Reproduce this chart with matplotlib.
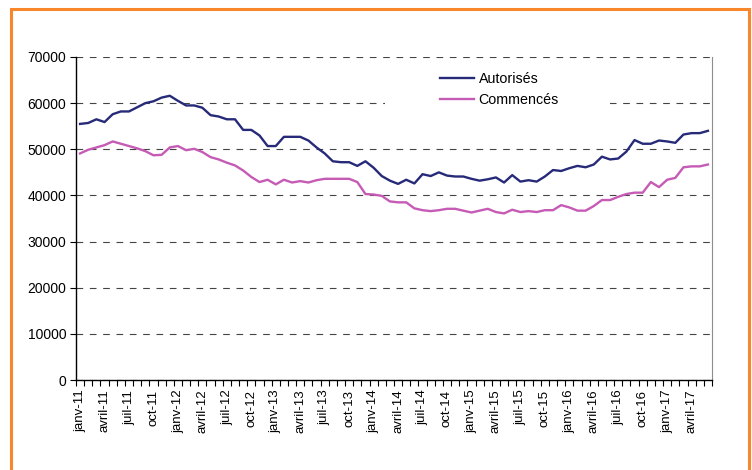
import matplotlib.pyplot as plt
from matplotlib.patches import Rectangle
from matplotlib.ticker import FixedLocator, NullFormatter

plt.rcParams["font.family"] = ["Liberation Sans", "DejaVu Sans"]

# monthly series, janv-11 .. juin-17
month_names = ["janv", "févr", "mars", "avril", "mai", "juin",
               "juil", "août", "sept", "oct", "nov", "déc"]
years = [11, 12, 13, 14, 15, 16, 17]
months = [f"{m}-{y}" for y in years for m in month_names][:78]

autorises = [
    55500, 55700, 56500, 55900, 57600, 58200, 58200, 59100, 60000, 60400,
    61200, 61600, 60500, 59500, 59500, 59000, 57400, 57100, 56500, 56500,
    54200, 54200, 53000, 50700, 50700, 52700, 52700, 52700, 51900, 50400,
    49100, 47400, 47200, 47200, 46400, 47400, 46000, 44200, 43200, 42500,
    43400, 42600, 44600, 44200, 45000, 44300, 44100, 44100, 43600, 43200,
    43500, 43900, 42800, 44400, 43000, 43300, 43000, 44100, 45500, 45300,
    45900, 46400, 46100, 46700, 48400, 47800, 48000, 49500, 52000, 51200,
    51200, 51900, 51700, 51400, 53200, 53500, 53500, 54000,
]
commences = [
    49100, 49900, 50400, 50900, 51700, 51200, 50700, 50200, 49600, 48700,
    48800, 50400, 50700, 49800, 50100, 49400, 48300, 47800, 47100, 46500,
    45400, 44000, 42900, 43400, 42400, 43400, 42800, 43100, 42800, 43300,
    43600, 43600, 43600, 43600, 42900, 40300, 40200, 39900, 38700, 38500,
    38500, 37200, 36800, 36600, 36800, 37100, 37100, 36700, 36300, 36700,
    37100, 36400, 36100, 36900, 36400, 36600, 36400, 36800, 36800, 37900,
    37400, 36700, 36700, 37700, 39000, 39000, 39700, 40300, 40600, 40600,
    42900, 41800, 43400, 43800, 46100, 46300, 46300, 46700,
]
y_ticks = [0, 10000, 20000, 30000, 40000, 50000, 60000, 70000]

fig = plt.figure(figsize=(7.52, 4.70), dpi=100)
ax = fig.add_axes([76 / 752, 1 - 380 / 470, 636 / 752, 323 / 470])

x = list(range(len(months)))
ax.plot(x, autorises, color="#262A78", lw=1.7, label="Autorisés", zorder=3)
ax.plot(x, commences, color="#C65BB5", lw=1.7, label="Commencés", zorder=3)

ax.set_xlim(-0.5, len(months) - 0.5)
ax.set_ylim(0, 70000)
ax.set_yticks(y_ticks)
ax.set_yticklabels([str(v) for v in y_ticks], fontsize=10)

# labels every 3 months, tick marks between categories
label_pos = x[::3]
ax.xaxis.set_major_locator(FixedLocator(label_pos))
ax.set_xticklabels([months[i] for i in label_pos], rotation=90, fontsize=9.5)
ax.xaxis.set_minor_locator(FixedLocator([i - 0.5 for i in range(len(months) + 1)]))
ax.xaxis.set_minor_formatter(NullFormatter())
ax.tick_params(axis="x", which="major", length=0, pad=7)
ax.tick_params(axis="x", which="minor", length=4, width=0.8, direction="out")
ax.tick_params(axis="y", length=4, width=0.8, direction="out", pad=3)

ax.set_axisbelow(True)
ax.yaxis.grid(True, color="#444444", lw=0.8, linestyle=(0, (6, 6)))
ax.spines["top"].set_visible(False)
ax.spines["right"].set_color("#8c8c8c")
ax.spines["left"].set_linewidth(1)
ax.spines["bottom"].set_linewidth(1)

# white legend area hiding the gridline, as in the original
ax.add_patch(Rectangle((0.486, 0.83), 0.354, 0.15, transform=ax.transAxes,
                       facecolor="white", edgecolor="none", zorder=1.5))
ax.legend(loc="upper left", bbox_to_anchor=(0.561, 0.975), frameon=False,
          fontsize=10.3, handlelength=2.4, handletextpad=0.3, borderpad=0,
          labelspacing=0.45)

fig.add_artist(Rectangle((10.5 / 752, -0.05), 738.5 / 752, 1.05 - 8.6 / 470,
                         transform=fig.transFigure, fill=False,
                         edgecolor="#F7872A", lw=2.2))

fig.savefig("out.png", dpi=100)
